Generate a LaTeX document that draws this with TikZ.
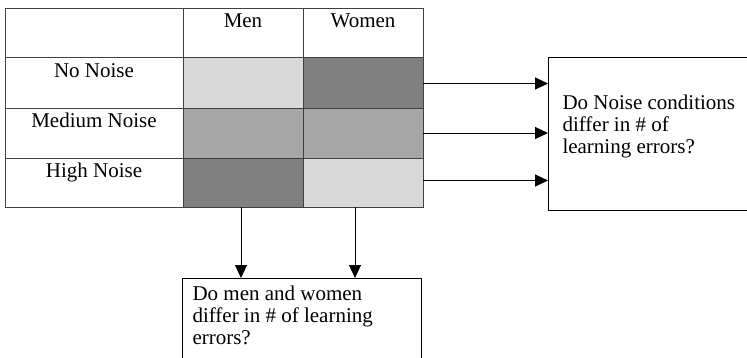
\documentclass[tikz,border=0pt]{standalone}
\usepackage{fontspec}
\setmainfont{Liberation Serif}
\usetikzlibrary{arrows.meta}

\definecolor{lowcell}{gray}{0.85}
\definecolor{midcell}{gray}{0.65}
\definecolor{highcell}{gray}{0.5}

\begin{document}
\begin{tikzpicture}[x=1pt, y=-1pt, line width=1pt,
		font=\fontsize{21}{22}\selectfont,
		cell/.style={draw=black!75, anchor=north west, inner sep=0pt, outer sep=0pt,
			minimum width=120pt, minimum height=50pt},
		rowhead/.style={cell, minimum width=178pt},
		qbox/.style={draw, anchor=north west, inner sep=0pt, outer sep=0pt},
		arr/.style={-{Triangle[length=13pt,width=12pt]}}]
		\clip (0,0) rectangle (747,357);

		% the 3x2 table
		\node [rowhead, minimum height=49pt] (corner) at (5,8) {};
		\node [cell, minimum height=49pt] (men) at (183,8) {};
		\node [cell, minimum height=49pt] (women) at (303,8) {};

		\node [rowhead, minimum height=51pt] (no) at (5,57) {};
		\node [cell, minimum height=51pt, fill=lowcell] (noM) at (183,57) {};
		\node [cell, minimum height=51pt, fill=highcell] (noW) at (303,57) {};

		\node [rowhead] (med) at (5,108) {};
		\node [cell, fill=midcell] (medM) at (183,108) {};
		\node [cell, fill=midcell] (medW) at (303,108) {};

		\node [rowhead, minimum height=49pt] (high) at (5,158) {};
		\node [cell, minimum height=49pt, fill=highcell] (highM) at (183,158) {};
		\node [cell, minimum height=49pt, fill=lowcell] (highW) at (303,158) {};

		% labels sit at the top of their cells
		\node [anchor=base] (menTxt) at (243,27) {Men};
		\node [anchor=base] (womenTxt) at (363,27) {Women};
		\node [anchor=base] (noTxt) at (94,77) {No Noise};
		\node [anchor=base] (medTxt) at (94,127) {Medium Noise};
		\node [anchor=base] (highTxt) at (94,177) {High Noise};

		% question boxes (base = last line)
		\node [qbox, minimum width=220pt, minimum height=153pt] (noiseQ) at (548,57) {};
		\node [anchor=base west, align=left, inner sep=0pt] (noiseTxt) at (562,153)
			{Do Noise conditions\\differ in \# of\\learning errors?};

		\node [qbox, minimum width=239pt, minimum height=100pt] (sexQ) at (182,278) {};
		\node [anchor=base west, align=left, inner sep=0pt] (sexTxt) at (192,344)
			{Do men and women\\differ in \# of learning\\errors?};

		% arrows
		\draw [arr] ([yshift=-1pt]noW.east) -- ([yshift=-1pt]noW.east -| noiseQ.west);
		\draw [arr] (medW.east) -- (medW.east -| noiseQ.west);
		\draw [arr] ([yshift=2pt]highW.east) -- ([yshift=2pt]highW.east -| noiseQ.west);

		\draw [arr] ([xshift=-2pt]highM.south) -- ([xshift=-2pt]highM.south |- sexQ.north);
		\draw [arr] ([xshift=-8pt]highW.south) -- ([xshift=-8pt]highW.south |- sexQ.north);
	\end{tikzpicture}
\end{document}
